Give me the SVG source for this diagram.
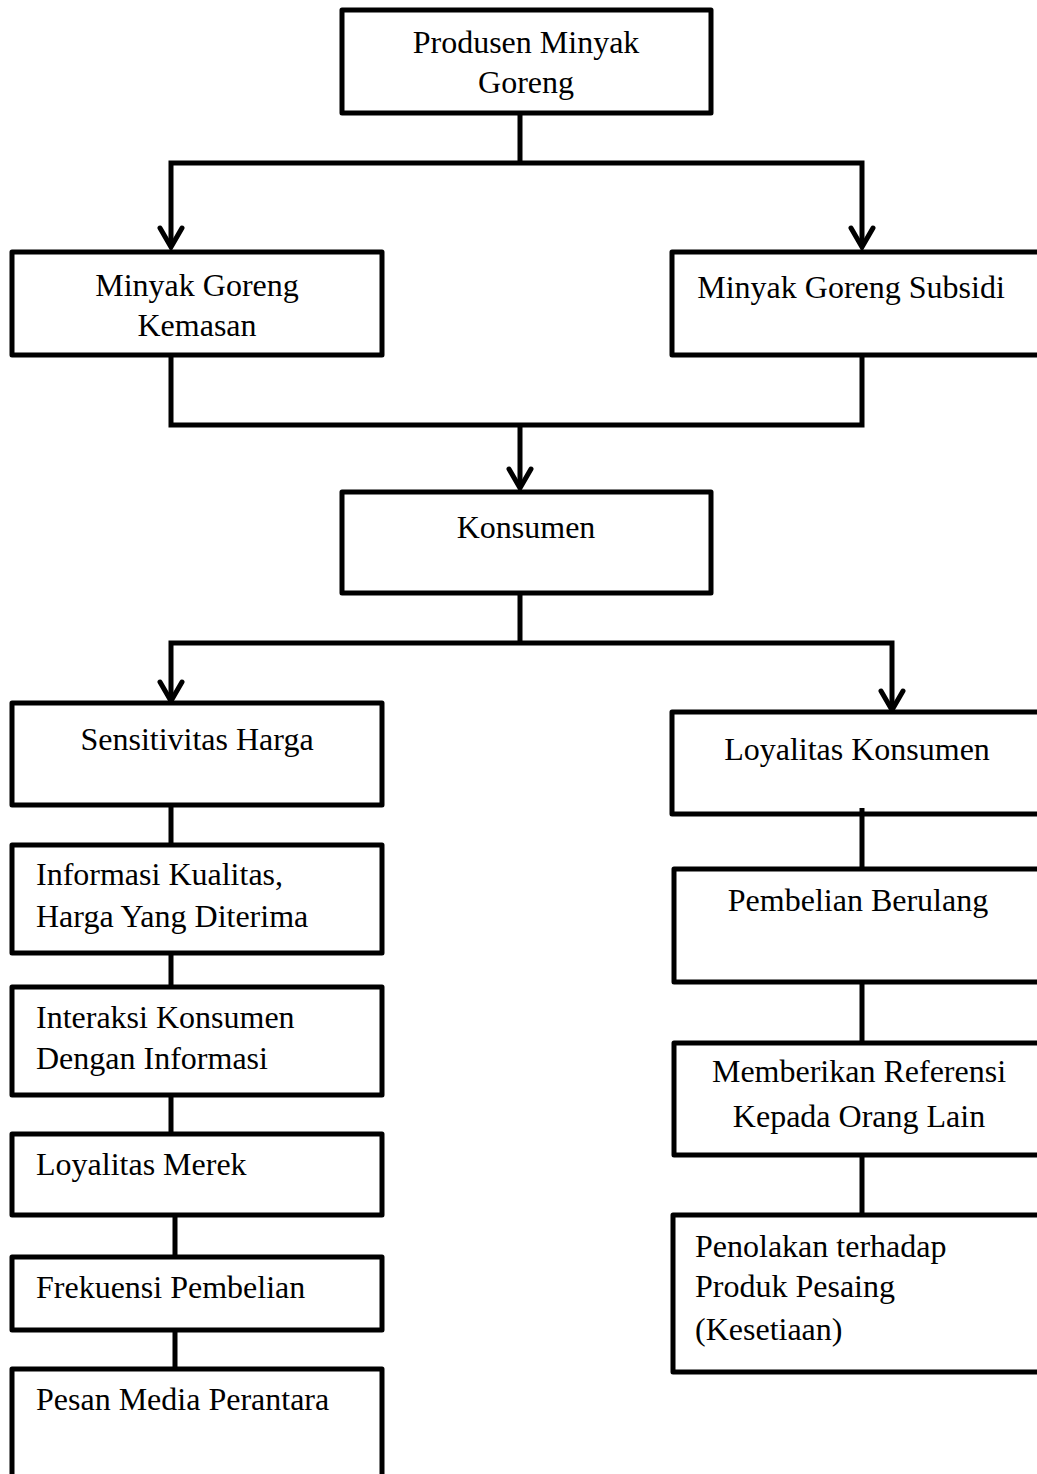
<svg xmlns="http://www.w3.org/2000/svg" width="1037" height="1474" viewBox="0 0 1037 1474">
<style>
.box{fill:#fff;stroke:#000;stroke-width:5;stroke-linejoin:round}
.ln{fill:none;stroke:#000;stroke-width:5;stroke-linejoin:miter}
.ah{fill:none;stroke:#000;stroke-width:5;stroke-linecap:round;stroke-linejoin:miter}
text{font-family:"Liberation Serif","Times New Roman",serif;font-size:32px;fill:#000}
.c{text-anchor:middle}
</style>
<rect width="1037" height="1474" fill="#fff"/>
<g id="connectors">
<path class="ln" d="M520,113 V163 M171,246 V163 H862 V246"/>
<path class="ah" d="M160,228 L171,247 L182,228 M851,228 L862,247 L873,228"/>
<path class="ln" d="M171,356 V425 H862 V356 M520,425 V486"/>
<path class="ah" d="M509,469 L520,488 L531,469"/>
<path class="ln" d="M520,593 V643 M171,700 V643 H892 V709"/>
<path class="ah" d="M160,682 L171,701 L182,682 M881,691 L892,710 L903,691"/>
<path class="ln" d="M171,806 V845 M171,953 V987 M171,1095 V1135 M175,1215 V1257 M175,1330 V1368"/>
<path class="ln" d="M862,982 V1043 M862,1155 V1215"/>
</g>
<g id="n1"><rect class="box" x="342" y="10" width="369" height="103"/><text class="c" x="526" y="53">Produsen Minyak</text><text class="c" x="526" y="93">Goreng</text></g>
<g id="n2"><rect class="box" x="12" y="252" width="370" height="103"/><text class="c" x="197" y="296">Minyak Goreng</text><text class="c" x="197" y="336">Kemasan</text></g>
<g id="n3"><rect class="box" x="672" y="252" width="380" height="103"/><text class="c" x="851" y="298">Minyak Goreng Subsidi</text></g>
<g id="n4"><rect class="box" x="342" y="492" width="369" height="101"/><text class="c" x="526" y="538">Konsumen</text></g>
<g id="n5"><rect class="box" x="12" y="703" width="370" height="102"/><text class="c" x="197" y="750">Sensitivitas Harga</text></g>
<g id="n6"><rect class="box" x="12" y="845" width="370" height="108"/><text x="36" y="885">Informasi Kualitas,</text><text x="36" y="927">Harga Yang Diterima</text></g>
<g id="n7"><rect class="box" x="12" y="987" width="370" height="108"/><text x="36" y="1028">Interaksi Konsumen</text><text x="36" y="1069">Dengan Informasi</text></g>
<g id="n8"><rect class="box" x="12" y="1134" width="370" height="81"/><text x="36" y="1175">Loyalitas Merek</text></g>
<g id="n9"><rect class="box" x="12" y="1257" width="370" height="73"/><text x="36" y="1298">Frekuensi Pembelian</text></g>
<g id="n10"><rect class="box" x="12" y="1369" width="370" height="120"/><text x="36" y="1410">Pesan Media Perantara</text></g>
<g id="n11"><rect class="box" x="672" y="712" width="380" height="102"/><text class="c" x="857" y="760">Loyalitas Konsumen</text></g>
<g id="n12"><rect class="box" x="674" y="869" width="380" height="113"/><text class="c" x="858" y="911">Pembelian Berulang</text></g>
<g id="n13"><rect class="box" x="674" y="1043" width="380" height="112"/><text class="c" x="859" y="1082">Memberikan Referensi</text><text class="c" x="859" y="1127">Kepada Orang Lain</text></g>
<g id="n14"><rect class="box" x="673" y="1215" width="380" height="157"/><text x="695" y="1257">Penolakan terhadap</text><text x="695" y="1297">Produk Pesaing</text><text x="695" y="1340">(Kesetiaan)</text></g>
<g id="connector-overlay"><path class="ln" d="M862,808 V869"/></g>
</svg>
